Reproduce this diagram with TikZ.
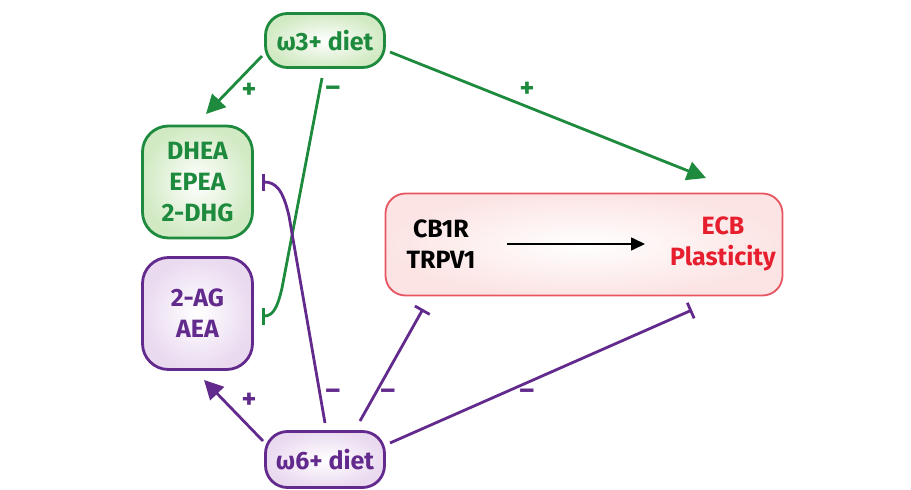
\documentclass[tikz,border=0pt]{standalone}
\usepackage{fontspec}
\setmainfont{Fira Sans}
\usetikzlibrary{arrows.meta}
\definecolor{gr}{RGB}{30,138,62}
\definecolor{pu}{RGB}{98,42,140}
\definecolor{rd}{RGB}{230,30,45}
\definecolor{rdb}{RGB}{232,84,98}
\definecolor{grfill}{RGB}{210,234,196}
\definecolor{pufill}{RGB}{234,218,240}
\definecolor{rdfill}{RGB}{252,228,228}
\tikzset{
  txt/.style={font=\bfseries\fontsize{25}{31}\selectfont, align=center},
  gbox/.style={txt, draw=gr, line width=2.8pt, text=gr, inner color=white, outer color=grfill, rounded corners=22pt},
  pbox/.style={txt, draw=pu, line width=2.8pt, text=pu, inner color=white, outer color=pufill, rounded corners=22pt},
  gline/.style={draw=gr, line width=2.8pt},
  pline/.style={draw=pu, line width=2.8pt},
  harrow/.style={-{Triangle[length=19pt,width=19pt]}},
  inhib/.style={-{Bar[width=17pt]}},
  sign/.style={font=\bfseries\fontsize{28}{28}\selectfont, inner sep=0pt},
}
\begin{document}
\begin{tikzpicture}[x=1pt,y=-1pt]
\useasboundingbox (0,0) rectangle (911,490);
% boxes
\node[gbox, minimum width=119pt, minimum height=54pt] (w3) at (325,40.5) {ω3+ diet};
\node[pbox, minimum width=119pt, minimum height=56pt] (w6) at (325,459.5) {ω6+ diet};
\node[gbox, minimum width=110pt, minimum height=112pt, rounded corners=26pt] (dhea) at (197.5,182) {DHEA\\EPEA\\2-DHG};
\node[pbox, minimum width=110pt, minimum height=112pt, rounded corners=26pt] (ag) at (197.5,313.5) {2-AG\\AEA};
\node[draw=rdb, line width=1.8pt, inner color=white, outer color=rdfill, rounded corners=20pt, minimum width=397pt, minimum height=102pt] (ecbbox) at (584,244.5) {};
\node[txt, text=black] (cb) at (441,244) {CB1R\\TRPV1};
\node[txt, text=rd] (ecb) at (723,244) {ECB\\Plasticity};
\coordinate (ia) at (507,244);
\coordinate (ib) at (645,244);
\draw[line width=1.6pt, -{Triangle[length=14pt,width=13pt]}] (ia) -- (ib);
% coordinates for connectors
\coordinate (a1) at (262,56);
\coordinate (a2) at (206,114);
\coordinate (b1) at (390,52);
\coordinate (b2) at (706,178);
\coordinate (c1) at (322,78);
\coordinate (c2) at (282,288);
\coordinate (c3) at (262,316);
\coordinate (d1) at (325,423);
\coordinate (d2) at (289,216);
\coordinate (d3) at (262,182);
\coordinate (e1) at (263,441);
\coordinate (e2) at (204,380);
\coordinate (f1) at (360,421);
\coordinate (f2) at (423,309);
\coordinate (g1) at (390,443);
\coordinate (g2) at (692,310);
% green connectors
\draw[gline, harrow] (a1) -- (a2);
\draw[gline, harrow] (b1) -- (b2);
\draw[gline, inhib] (c1) -- (c2) .. controls (277,310) and (272,316) .. (c3);
% purple connectors
\draw[pline, inhib] (d1) -- (d2) .. controls (283,190) and (276,182) .. (d3);
\draw[pline, harrow] (e1) -- (e2);
\draw[pline, inhib] (f1) -- (f2);
\draw[pline, inhib] (g1) -- (g2);
% signs
\node[sign, text=gr] (s1) at (249,91) {+};
\node[sign, text=gr] (s2) at (333,91) {–};
\node[sign, text=gr] (s3) at (527,90) {+};
\node[sign, text=pu] (s4) at (249,401) {+};
\node[sign, text=pu] (s5) at (333,394) {–};
\node[sign, text=pu] (s6) at (388,394) {–};
\node[sign, text=pu] (s7) at (527,394) {–};
\end{tikzpicture}
\end{document}
